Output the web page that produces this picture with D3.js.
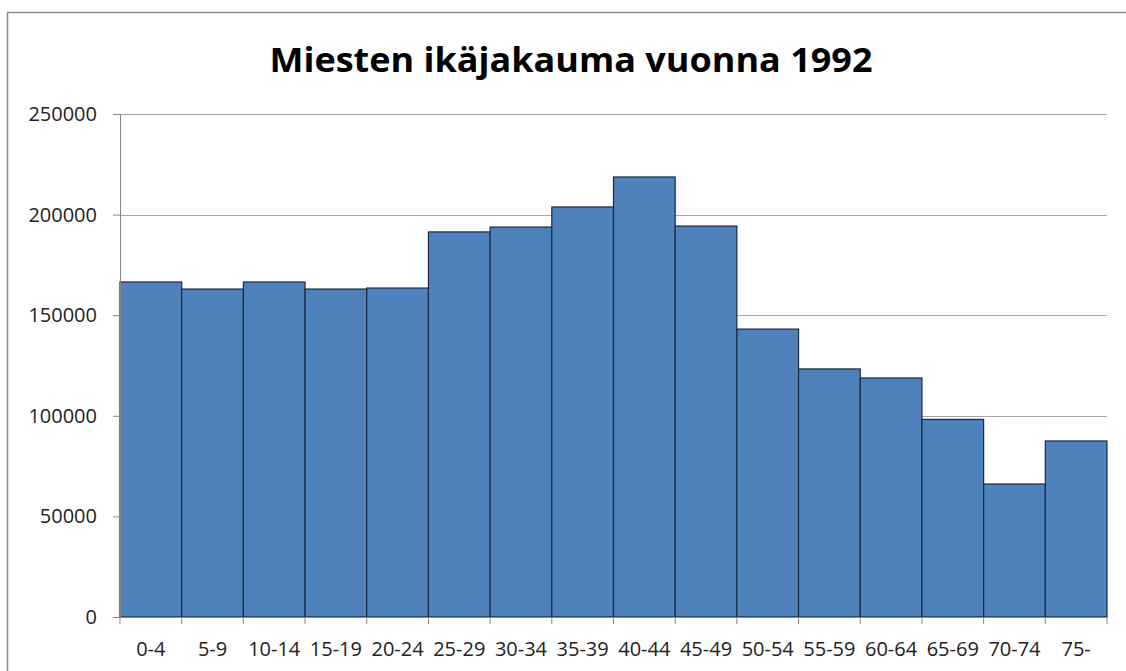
<!DOCTYPE html>
<html>
<head>
<meta charset="utf-8">
<script src="https://cdn.jsdelivr.net/npm/d3@7"></script>
<style>
  html, body { margin: 0; padding: 0; background: #fff; }
  svg { display: block; }
</style>
</head>
<body>
<svg id="chart" width="1126" height="671"></svg>
<script>
const title = 'Miesten ikäjakauma vuonna 1992'
const ageGroups = ['0-4', '5-9', '10-14', '15-19', '20-24', '25-29', '30-34', '35-39',
  '40-44', '45-49', '50-54', '55-59', '60-64', '65-69', '70-74', '75-']
const men = [166500, 163000, 166500, 163000, 163500, 191400, 193800, 203800,
  218700, 194300, 143100, 123300, 118800, 98200, 66100, 87500]
const yTicks = [0, 50000, 100000, 150000, 200000, 250000]

const width = 1126
const height = 671
const margin = { top: 114, right: 19, bottom: 54, left: 120 }
const labelFont = 'Open Sans, Liberation Sans, sans-serif'

const svg = d3.select('#chart')

// chart frame (only top and left edges are visible in the crop)
svg.append('path')
  .attr('d', `M7.5,${height} V12.5 H${width}`)
  .attr('fill', 'none')
  .attr('stroke', '#8c8c8c')
  .attr('stroke-width', 1.5)

const x = d3.scaleBand()
  .domain(ageGroups)
  .range([margin.left, width - margin.right])
  .padding(0)

const y = d3.scaleLinear()
  .domain([0, 250000])
  .range([height - margin.bottom, margin.top])

// gridlines
svg.append('g')
  .selectAll('line')
  .data(yTicks.filter(d => d > 0))
  .join('line')
  .attr('x1', margin.left)
  .attr('x2', width - margin.right)
  .attr('y1', d => Math.round(y(d)) + 0.5)
  .attr('y2', d => Math.round(y(d)) + 0.5)
  .attr('stroke', '#a6a6a6')
  .attr('stroke-width', 1)

// bars
svg.append('g')
  .selectAll('rect')
  .data(men)
  .join('rect')
  .attr('x', (d, i) => x(ageGroups[i]))
  .attr('y', d => y(d))
  .attr('width', x.bandwidth())
  .attr('height', d => y(0) - y(d))
  .attr('fill', '#4f81bd')
  .attr('stroke', '#1c2a40')
  .attr('stroke-width', 1.2)

// y axis
const yAxis = svg.append('g')
  .attr('transform', `translate(${margin.left},0)`)
  .call(d3.axisLeft(y).tickValues(yTicks).tickSize(7).tickPadding(16).tickFormat(d3.format('d')))
yAxis.select('.domain').attr('stroke', '#868686')
yAxis.selectAll('.tick line').attr('stroke', '#868686')
yAxis.selectAll('text')
  .attr('font-family', labelFont)
  .attr('font-size', 20)
  .attr('fill', '#222')

// x axis, ticks on category boundaries
const xAxis = svg.append('g')
  .attr('transform', `translate(0,${y(0)})`)
  .call(d3.axisBottom(x).tickSize(0).tickPadding(25))
xAxis.select('.domain').attr('stroke', '#868686')
xAxis.selectAll('text')
  .attr('font-family', labelFont)
  .attr('font-size', 20)
  .attr('fill', '#222')
xAxis.append('g')
  .selectAll('line')
  .data(ageGroups.map(d => x(d)).concat([x.range()[1]]))
  .join('line')
  .attr('x1', d => d)
  .attr('x2', d => d)
  .attr('y1', 0)
  .attr('y2', 7)
  .attr('stroke', '#868686')

// title
svg.append('text')
  .attr('x', 571)
  .attr('y', 72)
  .attr('text-anchor', 'middle')
  .attr('font-family', labelFont)
  .attr('font-weight', 'bold')
  .attr('font-size', 34)
  .attr('textLength', 603)
  .attr('lengthAdjust', 'spacingAndGlyphs')
  .attr('fill', '#000')
  .text(title)
</script>
</body>
</html>
